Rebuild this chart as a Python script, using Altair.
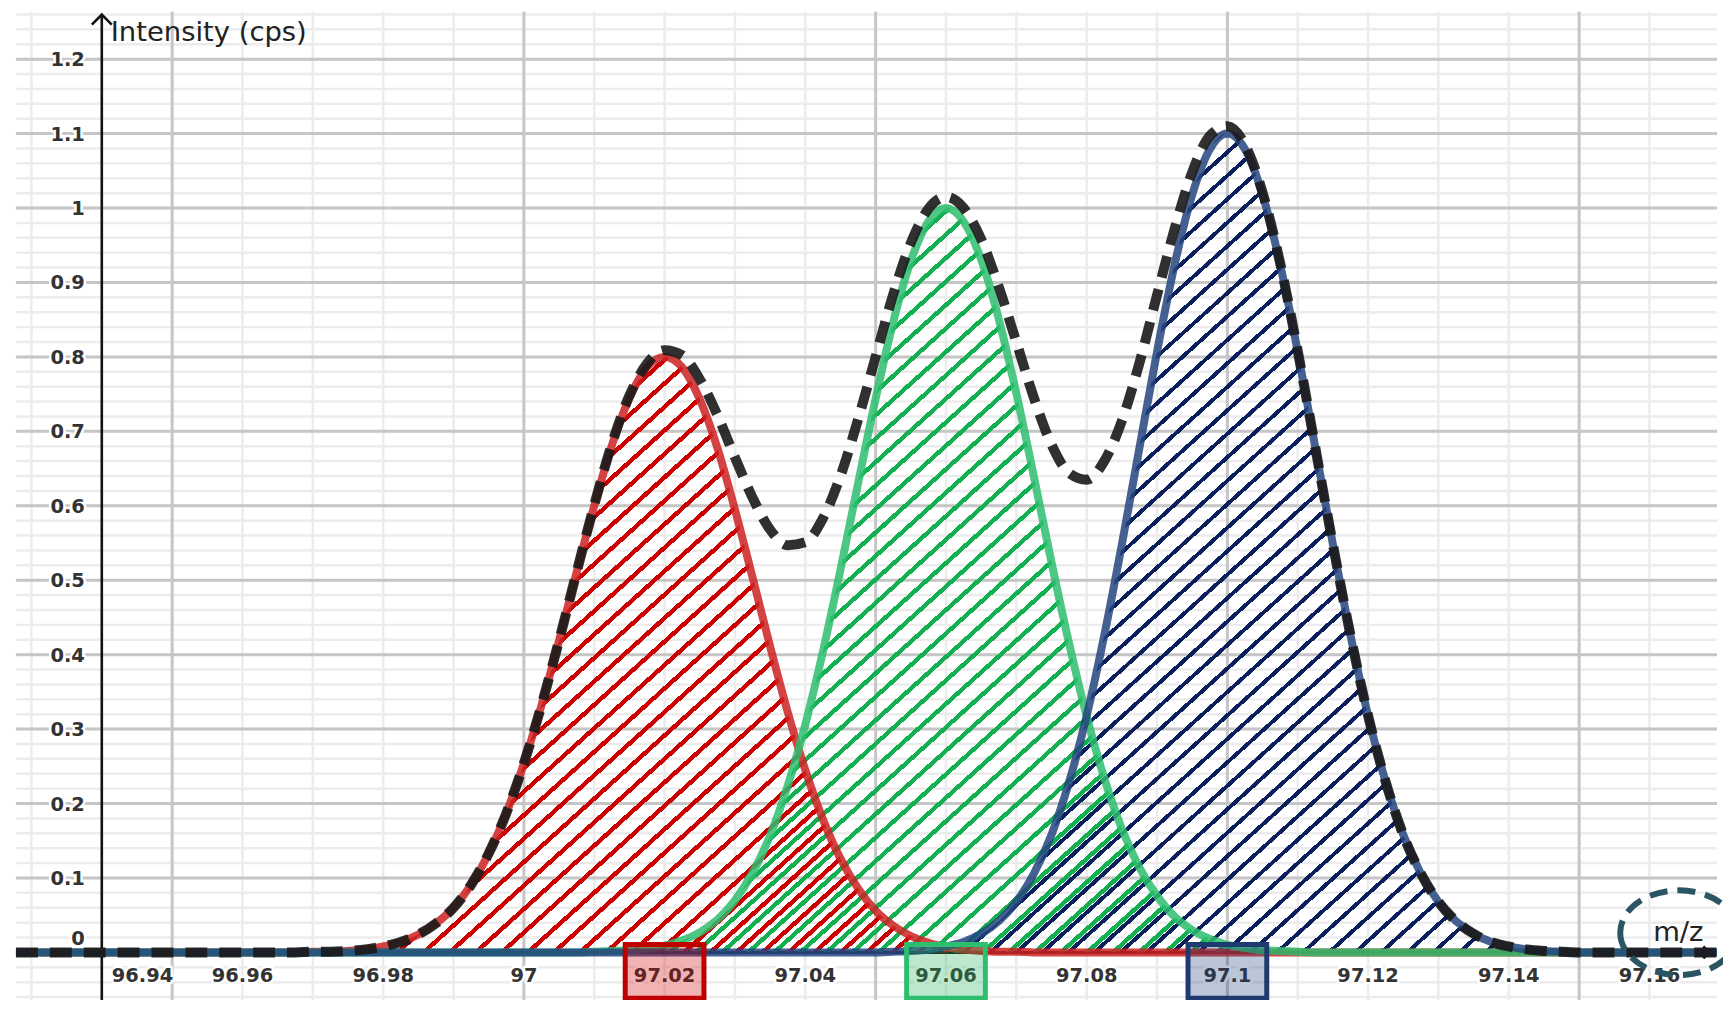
import math
import altair as alt
import pandas as pd

# ---------------- data ----------------
# m/z sampling positions (plot edges + 0.0025 grid from 96.955 to 97.165)
MZ = [96.9278] + [round(96.955 + 0.0025 * i, 4) for i in range(85)] + [97.1696]

RED = [0.0] * 7 + [
    0.001, 0.001, 0.002, 0.004, 0.008, 0.014, 0.024, 0.039, 0.060, 0.091,
    0.133, 0.187, 0.254, 0.332, 0.419, 0.511, 0.600, 0.681, 0.745, 0.786,
    0.800,
    0.786, 0.743, 0.678, 0.595, 0.504, 0.411, 0.323, 0.245, 0.179, 0.126,
    0.086, 0.056, 0.036, 0.022, 0.013, 0.007, 0.004, 0.002, 0.001, 0.001,
] + [0.0] * 39

GREEN = [0.0] * 23 + [
    0.001, 0.002, 0.003, 0.005, 0.009, 0.016, 0.027, 0.044, 0.070, 0.107,
    0.157, 0.224, 0.306, 0.404, 0.514, 0.630, 0.744, 0.847, 0.929, 0.982,
    1.000,
    0.982, 0.931, 0.851, 0.751, 0.639, 0.524, 0.415, 0.317, 0.234, 0.166,
    0.114, 0.076, 0.048, 0.030, 0.018, 0.010, 0.006, 0.003, 0.002, 0.001,
] + [0.0] * 23

NAVY = [0.0] * 40 + [
    0.001, 0.002, 0.004, 0.008, 0.014, 0.025, 0.042, 0.068, 0.106, 0.158,
    0.229, 0.318, 0.426, 0.548, 0.678, 0.807, 0.924, 1.018, 1.079,
    1.100,
    1.079, 1.018, 0.924, 0.807, 0.678, 0.548, 0.426, 0.318, 0.229, 0.158,
    0.106, 0.068, 0.042, 0.025, 0.014, 0.008, 0.004, 0.002, 0.001,
] + [0.0] * 8

PEAKS = ["red", "green", "navy"]
SERIES = [RED, GREEN, NAVY]

X_TICKS = [96.94, 96.96, 96.98, 97.0, 97.02, 97.04, 97.06, 97.08, 97.1, 97.12, 97.14, 97.16]
X_TICK_LABELS = ["96.94", "96.96", "96.98", "97", "97.02", "97.04", "97.06", "97.08",
                 "97.1", "97.12", "97.14", "97.16"]
Y_TICKS = [0.0, 0.1, 0.2, 0.3, 0.4, 0.5, 0.6, 0.7, 0.8, 0.9, 1.0, 1.1, 1.2]
Y_TICK_LABELS = ["0", "0.1", "0.2", "0.3", "0.4", "0.5", "0.6", "0.7", "0.8", "0.9",
                 "1", "1.1", "1.2"]
HIGHLIGHT_TICKS = [97.02, 97.06, 97.1]

X_TITLE = "m/z"
Y_TITLE = "Intensity (cps)"

for s in SERIES:
    assert len(s) == len(MZ)

# ---------------- layout / style ----------------
W, H = 1707, 982
X_DOMAIN = [96.9278, 97.1696]
Y_DOMAIN = [-0.0509, 1.2637]
GRID_BOTTOM = -0.066     # grid continues into the bottom padding
AXIS_X = 96.94           # where the vertical axis crosses
Y_ARROW_TIP = 1.2597
X_ARROW_TIP = 97.1685

LINE_COL = {"red": "#cc2222", "green": "#2dbe6e", "navy": "#24457f"}
HATCH_COL = {"red": "#cc0000", "green": "#12b050", "navy": "#0a1f5c"}
HATCH_W = {"red": 4.4, "green": 4.4, "navy": 4.0}
BOX_BORDER = {"red": "#c00000", "green": "#2dbe6e", "navy": "#1f3a70"}
BOX_FILL = {"red": "#cc0000", "green": "#26b258", "navy": "#26417d"}

LABEL_FONT = "DejaVu Sans"
TITLE_FONT = "DejaVu Sans"


def xq(field):
    return alt.X(f"{field}:Q", scale=alt.Scale(domain=X_DOMAIN, nice=False, zero=False), axis=None)


def yq(field):
    return alt.Y(f"{field}:Q", scale=alt.Scale(domain=Y_DOMAIN, nice=False, zero=False),
                 axis=None, stack=None)


rows = []
for name, vals in zip(PEAKS, SERIES):
    for x, v in zip(MZ, vals):
        rows.append({"mz": x, "v": v, "peak": name})
df = pd.DataFrame(rows)

PX_X = W / (X_DOMAIN[1] - X_DOMAIN[0])
PX_Y = H / (Y_DOMAIN[1] - Y_DOMAIN[0])


def hatch(color, x0, x1, ymax, lw, period=17.5, angle=42.0):
    w = (x1 - x0) * PX_X
    h = ymax * PX_Y
    a = math.radians(angle)
    sa, ca = math.sin(a), math.cos(a)
    smax = w * sa + h * ca
    k = smax / (w * w * sa * sa + h * h * ca * ca)
    gx, gy = k * w * sa, k * h * ca
    clear = "rgba(255,255,255,0)"
    stops = [alt.GradientStop(color=clear, offset=0)]
    s = period * 0.5
    while s < smax:
        t0 = round(s / smax, 5)
        t1 = round(min((s + lw) / smax, 1.0), 5)
        stops += [alt.GradientStop(color=clear, offset=t0),
                  alt.GradientStop(color=color, offset=t0),
                  alt.GradientStop(color=color, offset=t1),
                  alt.GradientStop(color=clear, offset=t1)]
        s += period
    stops.append(alt.GradientStop(color=clear, offset=1))
    return alt.LinearGradient(gradient="linear", stops=stops, x1=0, y1=0, x2=gx, y2=gy)


layers = []

# ---- grid ----
minor_x = pd.DataFrame({"g": [round(96.93 + 0.01 * i, 2) for i in range(24)],
                        "y0": GRID_BOTTOM, "y1": Y_DOMAIN[1]})
major_x = pd.DataFrame({"g": [96.95, 97.0, 97.05, 97.1, 97.15],
                        "y0": GRID_BOTTOM, "y1": Y_DOMAIN[1]})
minor_y = pd.DataFrame({"g": [round(-0.06 + 0.02 * i, 2) for i in range(67)]})
major_y = pd.DataFrame({"g": Y_TICKS})

layers.append(alt.Chart(minor_x).mark_rule(color="#ececec", strokeWidth=2.5).encode(
    x=xq("g"), y=yq("y0"), y2=alt.Y2("y1")))
layers.append(alt.Chart(minor_y).mark_rule(color="#ececec", strokeWidth=2.5).encode(y=yq("g")))
layers.append(alt.Chart(major_x).mark_rule(color="#c6c6c6", strokeWidth=3).encode(
    x=xq("g"), y=yq("y0"), y2=alt.Y2("y1")))
layers.append(alt.Chart(major_y).mark_rule(color="#c6c6c6", strokeWidth=3).encode(y=yq("g")))

# ---- axes ----
yaxis_df = pd.DataFrame({"ax": [AXIS_X], "y0": [GRID_BOTTOM], "y1": [Y_ARROW_TIP]})
layers.append(alt.Chart(yaxis_df).mark_rule(color="#111111", strokeWidth=2.6).encode(
    x=xq("ax"), y=yq("y0"), y2=alt.Y2("y1")))
xaxis_df = pd.DataFrame({"x0": [X_DOMAIN[0]], "x1": [X_ARROW_TIP], "ay": [0.0]})
layers.append(alt.Chart(xaxis_df).mark_rule(color="#111111", strokeWidth=3).encode(
    x=xq("x0"), x2=alt.X2("x1"), y=yq("ay")))
layers.append(alt.Chart(pd.DataFrame({"ax": [AXIS_X], "ay": [Y_ARROW_TIP]})).mark_point(
    shape="M-1,1 L0,0 L1,1", size=400, filled=False, stroke="#111111", strokeWidth=2.6,
    opacity=1).encode(x=xq("ax"), y=yq("ay")))
layers.append(alt.Chart(pd.DataFrame({"ax": [X_ARROW_TIP], "ay": [0.0]})).mark_point(
    shape="M-1,-1 L0,0 L-1,1", size=144, filled=False, stroke="#111111", strokeWidth=2.6,
    opacity=1).encode(x=xq("ax"), y=yq("ay")))

# ---- hatched areas ----
for name, vals in zip(PEAKS, SERIES):
    xs = [x for x, v in zip(MZ, vals) if v > 0]
    grad = hatch(HATCH_COL[name], min(xs), max(xs), max(vals), HATCH_W[name])
    layers.append(
        alt.Chart(df).transform_filter(f"datum.peak == '{name}' && datum.v > 0")
        .mark_area(fill=grad, interpolate="monotone")
        .encode(x=xq("mz"), y=yq("v"), y2=alt.datum(0))
    )

# ---- peak curves ----
for name in PEAKS:
    layers.append(
        alt.Chart(df).transform_filter(f"datum.peak == '{name}'")
        .mark_line(color=LINE_COL[name], strokeWidth=8, opacity=0.85, interpolate="monotone")
        .encode(x=xq("mz"), y=yq("v"))
    )

# ---- dashed envelope (sum of the three peaks) ----
layers.append(
    alt.Chart(df).transform_aggregate(total="sum(v)", groupby=["mz"])
    .mark_line(color="#1a1a1a", strokeWidth=10, strokeDash=[22, 12], opacity=0.9,
               interpolate="monotone")
    .encode(x=xq("mz"), y=yq("total"))
)

# ---- tick labels ----
xl = pd.DataFrame({"t": X_TICKS, "lab": X_TICK_LABELS, "y0": 0.0})
xl_first = xl[xl["t"] == AXIS_X]
xl_rest = xl[xl["t"] != AXIS_X]
yl = pd.DataFrame({"t": Y_TICKS, "lab": Y_TICK_LABELS, "x0": AXIS_X})
yl_zero = yl[yl["t"] == 0.0]
yl_rest = yl[yl["t"] != 0.0]

lab_style = dict(font=LABEL_FONT, fontSize=19.5, fontWeight="bold", baseline="alphabetic")
halo = dict(stroke="white", strokeWidth=5, strokeJoin="round", fill="white")
ink = dict(fill="#333333")

for style in (halo, ink):
    layers.append(alt.Chart(xl_rest).mark_text(align="center", dy=30, **lab_style, **style)
                  .encode(x=xq("t"), y=yq("y0"), text="lab:N"))
    layers.append(alt.Chart(xl_first).mark_text(align="left", dx=10, dy=30, **lab_style, **style)
                  .encode(x=xq("t"), y=yq("y0"), text="lab:N"))
    layers.append(alt.Chart(yl_rest).mark_text(align="right", dx=-17, dy=7, **lab_style, **style)
                  .encode(x=xq("x0"), y=yq("t"), text="lab:N"))
    layers.append(alt.Chart(yl_zero).mark_text(align="right", dx=-17, dy=-7, **lab_style, **style)
                  .encode(x=xq("x0"), y=yq("t"), text="lab:N"))

# ---- highlighted tick boxes ----
RECT = "M-1,-0.6835 L1,-0.6835 L1,0.6835 L-1,0.6835 Z"
for name, t in zip(PEAKS, HIGHLIGHT_TICKS):
    layers.append(
        alt.Chart(pd.DataFrame({"t": [t], "y0": [0.0]})).mark_point(
            shape=RECT, size=79 * 79, filled=True, fill=BOX_FILL[name], fillOpacity=0.3,
            stroke=BOX_BORDER[name], strokeOpacity=1, strokeWidth=5, opacity=1, yOffset=19)
        .encode(x=xq("t"), y=yq("y0"))
    )

# ---- axis titles ----
layers.append(alt.Chart(pd.DataFrame({"x": [AXIS_X], "y": [1.224], "s": [Y_TITLE]})).mark_text(
    font=TITLE_FONT, fontSize=27.5, color="#222222", align="left", baseline="alphabetic", dx=9)
    .encode(x=xq("x"), y=yq("y"), text="s:N"))
layers.append(alt.Chart(pd.DataFrame({"x": [97.1641], "y": [0.0147], "s": [X_TITLE]})).mark_text(
    font=TITLE_FONT, fontSize=27.5, color="#222222", align="center", baseline="alphabetic")
    .encode(x=xq("x"), y=yq("y"), text="s:N"))
ELLIPSE = "M-1,0 A1,0.72 0 1,0 1,0 A1,0.72 0 1,0 -1,0 Z"
layers.append(alt.Chart(pd.DataFrame({"x": [97.1642], "y": [0.0265]})).mark_point(
    shape=ELLIPSE, size=118 * 118, filled=False, stroke="#2b5562", strokeWidth=6,
    strokeDash=[18, 10], opacity=1).encode(x=xq("x"), y=yq("y")))

chart = alt.layer(*layers).properties(
    width=W, height=H,
    padding={"left": 8, "top": 2, "right": 6, "bottom": 8},
    autosize=alt.AutoSizeParams(type="none"),
).configure_view(strokeOpacity=0)

chart.save("out.html", embed_options={"renderer": "svg", "actions": False})
